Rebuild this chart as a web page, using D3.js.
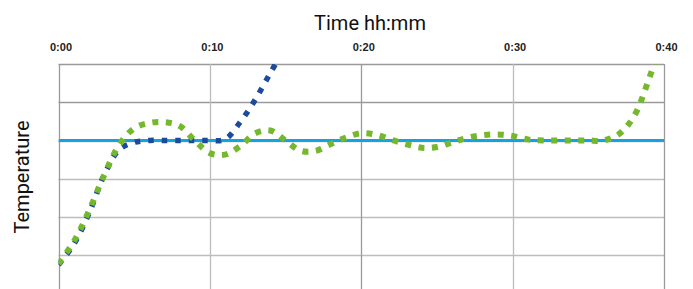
<!DOCTYPE html>
<html>
<head>
<meta charset="utf-8">
<script src="https://cdn.jsdelivr.net/npm/d3@7"></script>
<style>
  body { margin: 0; background: #fff; }
  .tick-label { font-family: "Liberation Sans", Arial, sans-serif; font-weight: bold; font-size: 11px; fill: #222; }
  .axis-title { font-family: Roboto, "Open Sans", sans-serif; font-size: 20px; fill: #111; }
</style>
</head>
<body>
<div id="chart"></div>
<script>
// minutes since start
var tickValues = [0, 10, 20, 30, 40];
var tickLabels = ["0:00", "0:10", "0:20", "0:30", "0:40"];
var gridValues = [1, 2, 3, 4, 5, 6];

var target = [[0, 4], [40, 4]];

var fastMinutes = [0, 1, 2, 3, 4, 5, 6, 7, 8, 9, 10, 11, 12, 13, 14, 15];
var fastValues  = [0.75, 1.28, 2.08, 3.08, 3.76, 3.95, 4.0, 4.0, 4.0, 4.0, 4.0, 4.03, 4.48, 5.07, 5.77, 6.45];

var pidMinutes = [0, 1, 2, 3, 4, 5, 6, 7, 8, 9, 10, 11, 12, 13, 14, 15, 16, 17, 18, 19, 20,
                  21, 22, 23, 24, 25, 26, 27, 28, 29, 30, 31, 32, 33, 34, 35, 36, 37, 38, 39, 40];
var pidValues  = [0.78, 1.35, 2.15, 3.08, 3.88, 4.32, 4.46, 4.48, 4.38, 4.0, 3.67, 3.63, 3.85, 4.19, 4.26, 4.0, 3.73, 3.73, 3.91, 4.08, 4.19,
                  4.15, 4.02, 3.9, 3.81, 3.83, 3.95, 4.07, 4.14, 4.16, 4.12, 4.03, 4.0, 4.0, 4.0, 4.0, 4.0, 4.16, 4.62, 5.6, 6.8];

var width = 693,
    height = 289;

var x0 = 58.5, x1 = 664, yTop = 64, yBottom = 293.5;

var svg = d3.select("#chart")
            .append("svg")
            .attr("width", width)
            .attr("height", height);

var x = d3.scaleLinear().domain([0, 40]).range([x0, x1]);
var y = d3.scaleLinear().domain([0, 6]).range([yBottom, yTop]);

svg.append("defs").append("clipPath")
   .attr("id", "plot-clip")
   .append("rect")
   .attr("x", x0)
   .attr("y", yTop)
   .attr("width", x1 - x0)
   .attr("height", yBottom - yTop);

// horizontal grid
svg.append("g").selectAll("line")
   .data(gridValues)
   .enter()
   .append("line")
   .attr("x1", x0)
   .attr("x2", x1)
   .attr("y1", function (d) { return Math.round(y(d)) + 0.5; })
   .attr("y2", function (d) { return Math.round(y(d)) + 0.5; })
   .attr("stroke", function (d) { return d >= 5 ? "#9a9a9a" : "#bdbdbd"; })
   .attr("stroke-width", 1.3);

// vertical grid
svg.append("g").selectAll("line")
   .data(tickValues)
   .enter()
   .append("line")
   .attr("x1", function (d) { return Math.round(x(d)) + 0.5; })
   .attr("x2", function (d) { return Math.round(x(d)) + 0.5; })
   .attr("y1", yTop)
   .attr("y2", height)
   .attr("stroke", function (d, i) { return i % 2 == 1 ? "#bdbdbd" : "#9a9a9a"; })
   .attr("stroke-width", 1.3);

// top axis labels
var axis = d3.axisTop(x)
   .tickValues(tickValues)
   .tickFormat(function (d, i) { return tickLabels[i]; })
   .tickSize(0)
   .tickPadding(0);

var axisG = svg.append("g")
   .attr("transform", "translate(0,51)")
   .call(axis);
axisG.select(".domain").remove();
axisG.selectAll("text")
   .attr("class", "tick-label")
   .attr("dx", 2)
   .attr("dy", 0)
   .attr("fill", null);

var line = d3.line()
   .x(function (d) { return x(d[0]); })
   .y(function (d) { return y(d[1]); })
   .curve(d3.curveCatmullRom.alpha(0.5));

var plot = svg.append("g").attr("clip-path", "url(#plot-clip)");

plot.append("path")
   .datum(target)
   .attr("d", line)
   .attr("fill", "none")
   .attr("stroke", "#13a3e0")
   .attr("stroke-width", 3);

plot.append("path")
   .datum(d3.zip(fastMinutes, fastValues))
   .attr("d", line)
   .attr("fill", "none")
   .attr("stroke", "#1c4b9e")
   .attr("stroke-width", 5.5)
   .attr("stroke-dasharray", "5.5 8");

plot.append("path")
   .datum(d3.zip(pidMinutes, pidValues))
   .attr("d", line)
   .attr("fill", "none")
   .attr("stroke", "#75b72e")
   .attr("stroke-width", 6)
   .attr("stroke-dasharray", "6 7.5");

svg.append("text")
   .attr("class", "axis-title")
   .attr("x", 370)
   .attr("y", 30)
   .attr("text-anchor", "middle")
   .text("Time hh:mm");

svg.append("text")
   .attr("class", "axis-title")
   .attr("transform", "translate(29,177) rotate(-90)")
   .attr("text-anchor", "middle")
   .text("Temperature");
</script>
</body>
</html>
